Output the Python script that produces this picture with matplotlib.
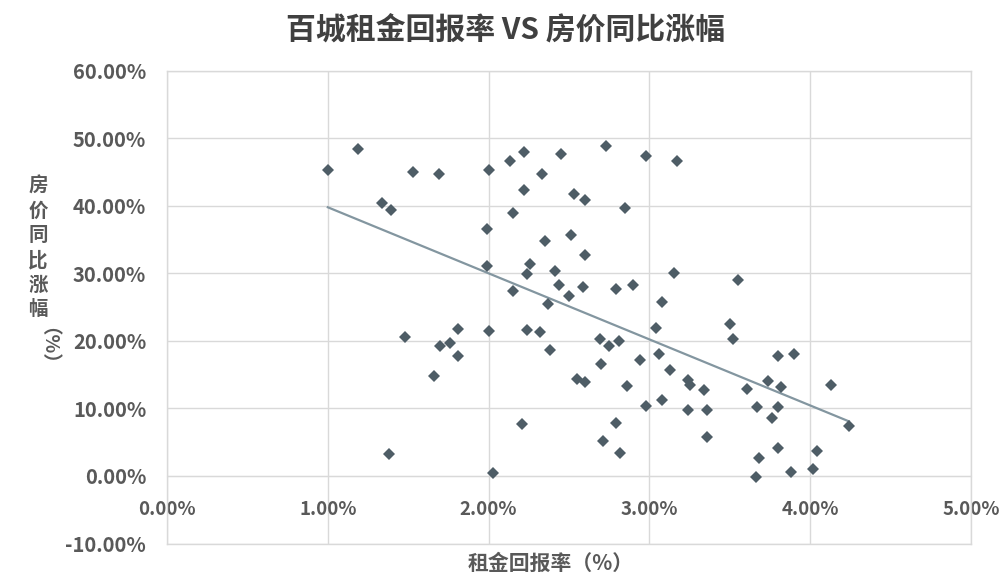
import numpy as np
import matplotlib
matplotlib.use("Agg")
import matplotlib.pyplot as plt
from matplotlib.ticker import PercentFormatter, FixedLocator

plt.rcParams['font.family'] = ['Noto Sans CJK SC', 'DejaVu Sans']
plt.rcParams['axes.unicode_minus'] = False

# rental yield (%) and year-on-year house price change (%) for each city
rent_yield = [
    1.19, 1.00, 1.53, 1.69, 2.00, 2.13, 2.22, 2.33, 2.22, 1.34,
    1.39, 2.15, 1.99, 2.35, 1.99, 2.26, 2.24, 2.15, 2.37, 2.45,
    2.73, 2.98, 3.17, 2.53, 2.60, 2.85, 2.51, 2.60, 2.41, 3.15,
    3.55, 2.44, 2.59, 2.79, 2.90, 2.50, 3.08, 1.48, 1.81, 1.70,
    1.76, 1.81, 1.66, 2.00, 2.24, 2.32, 2.38, 2.21, 1.38, 2.03,
    3.04, 3.50, 3.52, 2.69, 2.75, 2.81, 2.70, 2.94, 3.06, 3.13,
    2.55, 2.60, 2.86, 3.24, 3.25, 3.34, 2.98, 3.08, 3.24, 3.36,
    3.61, 3.74, 3.82, 3.80, 3.67, 3.80, 3.76, 2.79, 2.71, 2.82,
    3.36, 3.80, 3.68, 3.66, 3.88, 3.90, 4.13, 4.24, 4.04, 4.02,
]
price_change = [
    48.4, 45.3, 45.0, 44.7, 45.3, 46.6, 48.0, 44.7, 42.3, 40.4,
    39.3, 38.9, 36.6, 34.7, 31.0, 31.4, 29.9, 27.4, 25.5, 47.6,
    48.8, 47.3, 46.6, 41.7, 40.8, 39.6, 35.7, 32.7, 30.3, 30.1,
    29.0, 28.3, 27.9, 27.7, 28.2, 26.7, 25.8, 20.5, 21.7, 19.3,
    19.6, 17.8, 14.8, 21.4, 21.6, 21.3, 18.7, 7.7, 3.3, 0.4,
    21.9, 22.5, 20.3, 20.3, 19.2, 20.0, 16.6, 17.2, 18.0, 15.7,
    14.3, 13.9, 13.3, 14.2, 13.5, 12.7, 10.4, 11.3, 9.8, 9.7,
    12.8, 14.0, 13.1, 17.8, 10.2, 10.2, 8.5, 7.9, 5.2, 3.4,
    5.8, 4.1, 2.6, -0.1, 0.6, 18.0, 13.5, 7.4, 3.7, 1.0,
]

x_ticks = [0.00, 0.01, 0.02, 0.03, 0.04, 0.05]
y_ticks = [-0.10, 0.00, 0.10, 0.20, 0.30, 0.40, 0.50, 0.60]

title = "百城租金回报率 VS 房价同比涨幅"
x_title = "租金回报率（%）"
y_title_chars = "房价同比涨幅"
y_title_unit = "（%）"

x = np.array(rent_yield) / 100.0
y = np.array(price_change) / 100.0

grid_c = "#d9d9d9"
tick_c = "#595959"
point_c = "#4e5d66"
trend_c = "#8396a0"

fig = plt.figure(figsize=(10.02, 5.81), dpi=100)
ax = fig.add_axes([167 / 1002, 1 - 543.5 / 581, (971 - 167) / 1002, (543.5 - 70.5) / 581])

ax.set_xlim(x_ticks[0], x_ticks[-1])
ax.set_ylim(y_ticks[0], y_ticks[-1])
ax.xaxis.set_major_locator(FixedLocator(x_ticks))
ax.yaxis.set_major_locator(FixedLocator(y_ticks))
ax.xaxis.set_major_formatter(PercentFormatter(1.0, decimals=2))
ax.yaxis.set_major_formatter(PercentFormatter(1.0, decimals=2))

ax.grid(True, color=grid_c, linewidth=1.0)
ax.set_axisbelow(True)
for side in ("left", "right", "top"):
    ax.spines[side].set_color(grid_c)
    ax.spines[side].set_linewidth(1.0)
# category axis crosses the value axis at zero
ax.spines["bottom"].set_position(("data", 0))
ax.spines["bottom"].set_color(grid_c)
ax.axhline(y_ticks[0], color=grid_c, linewidth=1.0, clip_on=False)

ax.tick_params(axis="both", length=0, colors=tick_c)
ax.tick_params(axis="x", pad=17, labelsize=13.5)
ax.tick_params(axis="y", pad=15, labelsize=14.5)
for lab in ax.get_xticklabels() + ax.get_yticklabels():
    lab.set_fontweight("bold")

# linear trend line over the observed range
k, b = np.polyfit(x, y, 1)
xs = np.array([x.min(), x.max()])
ax.plot(xs, k * xs + b, color=trend_c, linewidth=1.6, zorder=2)

ax.plot(x, y, linestyle="none", marker="D", markersize=6.0,
        color=point_c, markeredgewidth=0, zorder=3)

fig.text(506 / 1002, 1 - 31 / 581, title, ha="center", va="center",
         fontsize=21.5, fontweight="bold", color="#404040")
fig.text(551 / 1002, 1 - 563 / 581, x_title, ha="center", va="center",
         fontsize=15, fontweight="bold", color=tick_c)
fig.text(38 / 1002, 1 - 248 / 581, "\n".join(y_title_chars), ha="center", va="center",
         fontsize=14, fontweight="bold", color=tick_c, linespacing=1.36)
fig.text(38 / 1002, 1 - 356 / 581, y_title_unit, ha="center", va="center",
         rotation=-90, fontsize=14, fontweight="bold", color=tick_c)

fig.savefig("out.png", dpi=100)
